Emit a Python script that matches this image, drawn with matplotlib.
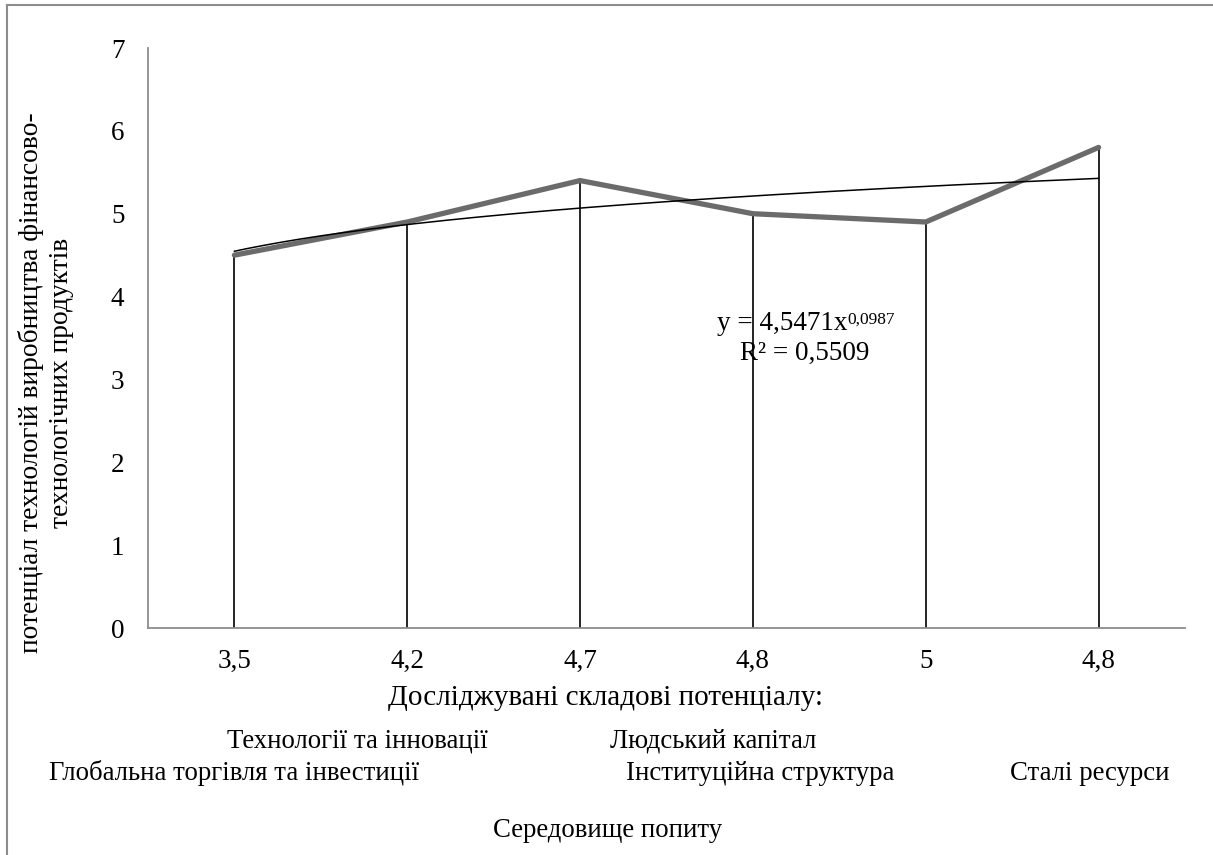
import numpy as np
import matplotlib
matplotlib.use("Agg")
import matplotlib.pyplot as plt
from matplotlib.lines import Line2D

plt.rcParams.update({
    "font.family": ["Liberation Serif", "DejaVu Serif"],
    "font.size": 19.3,
})

# ── data ──────────────────────────────────────────────────────────────────────
categories = ["3,5", "4,2", "4,7", "4,8", "5", "4,8"]
potential = [4.5, 4.9, 5.4, 5.0, 4.9, 5.8]

# power trendline y = a * x^b fitted over category index 1..n
trend_a = 4.5471
trend_b = 0.0987
trend_r2 = 0.5509

W, H = 1213, 855
fig = plt.figure(figsize=(W / 100, H / 100), dpi=100)
ax = fig.add_axes([148 / W, 1 - 628 / H, (1185 - 148) / W, (628 - 48) / H])

x = np.arange(1, len(potential) + 1)

# drop lines from each point to the category axis
ax.vlines(x, 0, potential, color="black", linewidth=1.2, zorder=2)
ax.plot(x, potential, color="#6b6b6b", linewidth=3.8, solid_capstyle="round",
        solid_joinstyle="miter", zorder=3)

xt = np.linspace(1, len(potential), 200)
ax.plot(xt, trend_a * xt ** trend_b, color="black", linewidth=1.1, zorder=4)

ax.set_xlim(0.5, len(potential) + 0.5)
ax.set_ylim(0, 7)
ax.set_yticks(range(0, 8))
ax.set_xticks(x)
ax.set_xticklabels(categories)
ax.tick_params(axis="both", length=0, labelsize=19.5)
ax.tick_params(axis="y", pad=17)
ax.tick_params(axis="x", pad=15)
for side in ("top", "right"):
    ax.spines[side].set_visible(False)
for side in ("left", "bottom"):
    ax.spines[side].set_color("#8c8c8c")
    ax.spines[side].set_linewidth(1.3)

# trendline equation
t_eq = fig.text(717 / W, 1 - 323 / H, f"y = {trend_a:.4f}x".replace(".", ","),
                ha="left", va="center", fontsize=19.5)
ax.annotate(f"{trend_b:.4f}".replace(".", ","), xy=(1, 0.95), xycoords=t_eq,
            ha="left", va="top", fontsize=12.5)
fig.text(805 / W, 1 - 353 / H, f"R² = {trend_r2:.4f}".replace(".", ","),
         ha="center", va="center", fontsize=19.5)

# axis titles
fig.text(46 / W, 1 - 383 / H,
         "потенціал технологій виробництва фінансово-\nтехнологічних продуктів",
         rotation=90, ha="center", va="center", fontsize=19.8, linespacing=1.3)

fig.text(605 / W, 1 - 698 / H, "Досліджувані складові потенціалу:",
         ha="center", va="center", fontsize=21)
fig.text(357 / W, 1 - 741 / H, "Технології та інновації", ha="center", va="center")
fig.text(713 / W, 1 - 741 / H, "Людський капітал", ha="center", va="center")
fig.text(234 / W, 1 - 773 / H, "Глобальна торгівля та інвестиції", ha="center", va="center")
fig.text(760 / W, 1 - 773 / H, "Інституційна структура", ha="center", va="center")
fig.text(1090 / W, 1 - 773 / H, "Сталі ресурси", ha="center", va="center")
fig.text(608 / W, 1 - 830 / H, "Середовище попиту", ha="center", va="center")

# chart frame
frame_kw = dict(color="#8c8c8c", linewidth=1.5, transform=fig.transFigure)
fig.add_artist(Line2D([7 / W, 1.01], [1 - 5 / H, 1 - 5 / H], **frame_kw))
fig.add_artist(Line2D([7 / W, 7 / W], [1 - 5 / H, -0.01], **frame_kw))

fig.savefig("out.png", dpi=100)
